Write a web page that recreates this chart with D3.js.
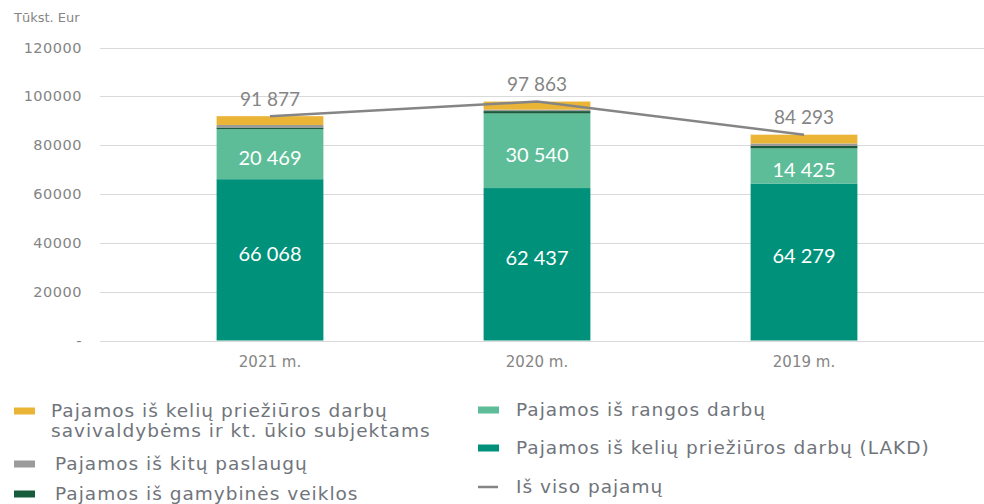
<!DOCTYPE html>
<html><head><meta charset="utf-8">
<script src="https://cdn.jsdelivr.net/npm/d3@7"></script>
<style>body{margin:0;background:#fff;} svg{display:block;font-family:Lato,"Noto Sans",sans-serif;}</style>
</head><body>
<svg id="c" width="984" height="504"></svg>
<script>
const categories = ["2021 m.", "2020 m.", "2019 m."];
const lakd = [66068, 62437, 64279];
const rangos = [20469, 30540, 14425];
const gamybines = [700, 986, 989];
const kitu = [1040, 600, 1000];
const savivaldybems = [3600, 3300, 3600];
const total = [91877, 97863, 84293];
const yTicks = [0, 20000, 40000, 60000, 80000, 100000, 120000];
const yTickLabels = ["-", "20000", "40000", "60000", "80000", "100000", "120000"];

const seriesKeys = ["lakd", "rangos", "gamybines", "kitu", "savivaldybems"];
const colors = {lakd:"#00917A", rangos:"#5CBD98", gamybines:"#175C3D", kitu:"#9B9B9B", savivaldybems:"#EAB536"};
const rows = categories.map((c,i)=>({cat:c, lakd:lakd[i], rangos:rangos[i], gamybines:gamybines[i], kitu:kitu[i], savivaldybems:savivaldybems[i], total:total[i]}));

const svg = d3.select("#c");
const x = d3.scaleBand().domain(categories).range([136.5, 937.5]).paddingInner(0.6).paddingOuter(0.3);
const y = d3.scaleLinear().domain([0, 120000]).range([340.5, 47.5]);
const textCol = "#858585";
const smallFont = "'DejaVu Sans', sans-serif";

// grid
svg.append("g").selectAll("line").data(yTicks).join("line")
  .attr("x1", 100).attr("x2", 984)
  .attr("y1", d=>Math.round(y(d))+0.5).attr("y2", d=>Math.round(y(d))+0.5)
  .attr("stroke", "#d9d9d9").attr("stroke-width", 1.2);

// y axis labels
svg.append("g").attr("font-family", smallFont).attr("letter-spacing", 0.5).selectAll("text").data(yTicks).join("text")
  .attr("x", 82).attr("y", d=>y(d)).attr("dy","0.35em")
  .attr("text-anchor","end").attr("font-size",14.5).attr("fill",textCol)
  .text((d,i)=>yTickLabels[i]);
svg.append("text").attr("font-family", smallFont).attr("x",14).attr("y",22).attr("font-size",13).attr("fill",textCol).text("Tūkst. Eur");

// stacked bars
const stack = d3.stack().keys(seriesKeys)(rows);
svg.append("g").selectAll("g").data(stack).join("g").attr("fill", d=>colors[d.key])
  .selectAll("rect").data(d=>d).join("rect")
  .attr("x", d=>x(d.data.cat)).attr("width", x.bandwidth())
  .attr("y", d=>y(d[1])).attr("height", d=>y(d[0])-y(d[1]));

// x labels
svg.append("g").attr("font-family", smallFont).selectAll("text").data(categories).join("text")
  .attr("x", d=>x(d)+x.bandwidth()/2).attr("y", 367)
  .attr("text-anchor","middle").attr("font-size",15).attr("fill",textCol).text(d=>d);

const fmt = v => d3.format(",")(v).replace(/,/g, " ");
// segment labels
svg.append("g").selectAll("text").data(rows).join("text")
  .attr("x", d=>x(d.cat)+x.bandwidth()/2).attr("y", d=>y(d.lakd/2)-6).attr("dy","0.35em")
  .attr("text-anchor","middle").attr("font-size",20).attr("fill","#fff").text(d=>fmt(d.lakd));
svg.append("g").selectAll("text").data(rows).join("text")
  .attr("x", d=>x(d.cat)+x.bandwidth()/2).attr("y", d=>y(d.lakd + d.rangos/2)+4).attr("dy","0.35em")
  .attr("text-anchor","middle").attr("font-size",20).attr("fill","#fff").text(d=>fmt(d.rangos));

// total line
const line = d3.line().x(d=>x(d.cat)+x.bandwidth()/2).y(d=>y(d.total));
svg.append("path").datum(rows).attr("d", line).attr("fill","none").attr("stroke","#858585").attr("stroke-width",2.5);
svg.append("g").selectAll("text").data(rows).join("text")
  .attr("x", d=>x(d.cat)+x.bandwidth()/2).attr("y", d=>y(d.total)-17).attr("dy","0.35em")
  .attr("text-anchor","middle").attr("font-size",19).attr("fill",textCol).text(d=>fmt(d.total));

// legend
const leg = svg.append("g").attr("font-family", smallFont).attr("font-size",18.5).attr("letter-spacing",1).attr("fill","#70747b");
const legendItems = [
  {key:"savivaldybems", lines:["Pajamos iš kelių priežiūros darbų","savivaldybėms ir kt. ūkio subjektams"], sx:14, tx:51, y:411},
  {key:"kitu", lines:["Pajamos iš kitų paslaugų"], sx:14, tx:55, y:464},
  {key:"gamybines", lines:["Pajamos iš gamybinės veiklos"], sx:14, tx:55, y:494},
  {key:"rangos", lines:["Pajamos iš rangos darbų"], sx:478, tx:516, y:410},
  {key:"lakd", lines:["Pajamos iš kelių priežiūros darbų (LAKD)"], sx:478, tx:516, y:448},
  {key:"line", lines:["Iš viso pajamų"], sx:478, tx:516, y:487}
];
legendItems.forEach(it=>{
  if (it.key==="line") {
    leg.append("line").attr("x1",it.sx).attr("x2",it.sx+20).attr("y1",it.y).attr("y2",it.y).attr("stroke","#858585").attr("stroke-width",2.5);
  } else {
    leg.append("rect").attr("x",it.sx).attr("y",it.y-3.5).attr("width",21).attr("height",7).attr("fill",colors[it.key]);
  }
  const t = leg.append("text");
  it.lines.forEach((l,i)=>t.append("tspan").attr("x",it.tx).attr("y", it.y + i*19.5).attr("dy","0.35em").text(l));
});
</script>
</body></html>
